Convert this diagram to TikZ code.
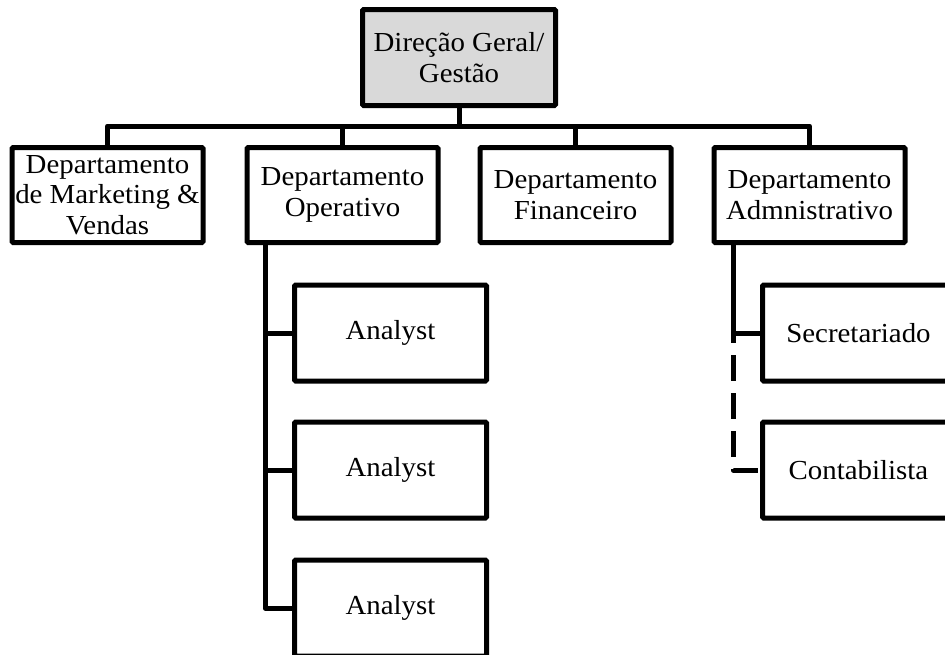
\documentclass[tikz,border=0pt]{standalone}
\usepackage{fontspec}
\setmainfont{Liberation Serif}[FakeStretch=1.05]
\begin{document}
\begin{tikzpicture}[x=1pt,y=-1pt,
  orgbox/.style={draw=black, line width=5pt, rounded corners=1.2pt,
    minimum width=191pt, minimum height=95pt, inner sep=0pt,
    align=center, font=\fontsize{27.5}{30.5}\selectfont},
  headbox/.style={orgbox, fill=black!15, minimum width=193pt, minimum height=96pt},
  subbox/.style={orgbox, fill=white, minimum width=192pt, minimum height=96pt},
  conn/.style={draw=black, line width=5pt, line join=round},
  optconn/.style={conn, dash pattern=on 26pt off 12pt, dash phase=16pt}]
\useasboundingbox (0,0) rectangle (945,654);
\clip (0,0) rectangle (945,654);

% helper lines: the bus under the head box and the two vertical spines
\coordinate (bus) at (0,126);
\coordinate (opspine) at (265,0);
\coordinate (admspine) at (733,0);

% head
\node[headbox] (head) at (459,57.5) {Direção Geral/\\Gestão};

% departments
\node[orgbox] (mkt) at (107.5,195) {Departamento\\de Marketing \&\\Vendas};
\node[orgbox] (op)  at (342.5,195) {Departamento\\Operativo};
\node[orgbox] (fin) at (575.5,195) {Departamento\\Financeiro};
\node[orgbox] (adm) at (809.5,195) {Departamento\\Admnistrativo};

% operational staff
\node[subbox] (an1) at (390.5,333) {Analyst};
\node[subbox] (an2) at (390.5,470) {Analyst};
\node[subbox] (an3) at (390.5,608) {Analyst};

% administrative staff
\node[subbox] (sec)  at (858.5,333) {Secretariado};
\node[subbox] (cont) at (858.5,470) {Contabilista};

% head to departments
\draw[conn] (head.south) -- (head.south |- bus);
\draw[conn] (mkt.north) |- (adm.north |- bus) -- (adm.north);
\draw[conn] (op.north) -- (op.north |- bus);
\draw[conn] (fin.north) -- (fin.north |- bus);

% operational department
\draw[conn] (op.south -| opspine) |- (an3.west);
\draw[conn] (an1.west) -- (an1.west -| opspine);
\draw[conn] (an2.west) -- (an2.west -| opspine);

% administrative department
\draw[conn] (adm.south -| admspine) |- (sec.west);
\draw[optconn] (sec.west -| admspine) |- (cont.west);
\end{tikzpicture}
\end{document}
